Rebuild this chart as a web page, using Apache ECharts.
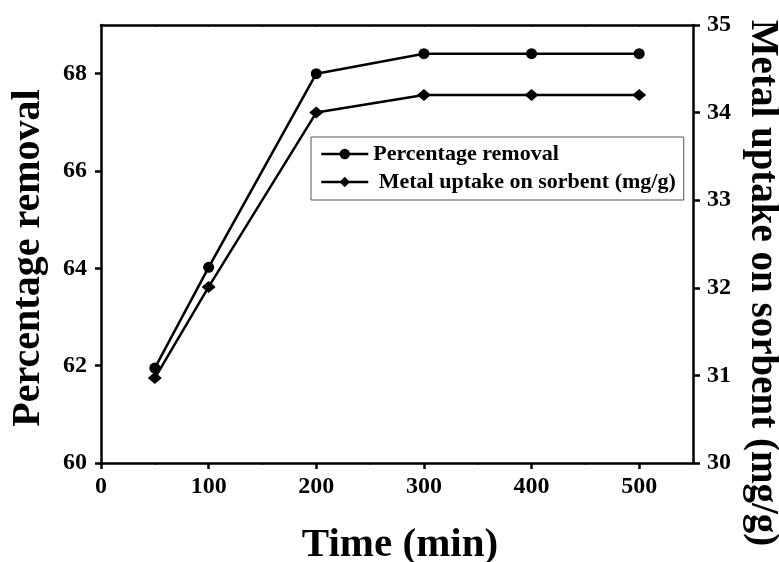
<!DOCTYPE html>
<html>
<head>
<meta charset="utf-8">
<script src="https://cdn.jsdelivr.net/npm/echarts@6/dist/echarts.min.js"></script>
<style>
  html, body { margin: 0; padding: 0; background: #fff; }
  #chart { width: 779px; height: 562px; }
</style>
</head>
<body>
<div id="chart"></div>
<script>
// Contact time (min)
const timeMin = [50, 100, 200, 300, 400, 500];
// Percentage removal (left axis)
const percentRemoval = [61.95, 64.02, 68.0, 68.41, 68.41, 68.41];
// Metal uptake on sorbent, mg/g (right axis)
const metalUptake = [30.97, 32.01, 34.0, 34.2, 34.2, 34.2];
// Tick labels
const leftTicks = [60, 62, 64, 66, 68];
const rightTicks = [30, 31, 32, 33, 34, 35];
const xTicks = [0, 100, 200, 300, 400, 500];

const FONT = '"Liberation Serif", "Times New Roman", serif';
const nameRemoval = 'Percentage removal';
const nameUptake = 'Metal uptake on sorbent (mg/g)';

const chart = echarts.init(document.getElementById('chart'), null, { renderer: 'canvas' });

const tickLabel = { fontFamily: FONT, fontWeight: 'bold', fontSize: 24, color: '#000' };
const axisLine = { show: true, onZero: false, lineStyle: { color: '#000', width: 2.5 } };

chart.setOption({
  animation: false,
  backgroundColor: '#fff',
  grid: { left: 101, top: 25, right: 86, bottom: 99, containLabel: false, outerBoundsMode: 'none' },
  legend: {
    orient: 'vertical',
    left: 311,
    top: 137,
    padding: [6, 8, 7, 9],
    itemWidth: 47,
    itemHeight: 13,
    itemGap: 6,
    borderColor: '#555',
    borderWidth: 1,
    data: [nameRemoval, nameUptake],
    formatter: (n) => (n === nameUptake ? ' ' + n : n),
    lineStyle: { width: 2.5, color: '#000' },
    textStyle: { fontFamily: FONT, fontWeight: 'bold', fontSize: 22, lineHeight: 22, color: '#000' }
  },
  xAxis: [
    {
      type: 'value', position: 'bottom', min: 0, max: 550, interval: 100,
      name: 'Time (min)', nameLocation: 'middle', nameGap: 62,
      nameTextStyle: { fontFamily: FONT, fontWeight: 'bold', fontSize: 41, color: '#000', padding: [0, 0, 0, 6] },
      axisLine: axisLine,
      axisTick: { show: true, inside: false, length: 6, lineStyle: { color: '#000', width: 2.5 }, customValues: xTicks },
      minorTick: { show: true, splitNumber: 2, length: 2, lineStyle: { color: '#000', width: 1 } },
      axisLabel: Object.assign({ margin: 12, customValues: xTicks }, tickLabel),
      splitLine: { show: false }
    },
    {
      type: 'value', position: 'top', min: 0, max: 550, interval: 50,
      axisLine: axisLine,
      axisTick: { show: true, inside: true, length: 2, lineStyle: { color: '#000', width: 1 } },
      axisLabel: { show: false },
      splitLine: { show: false }
    }
  ],
  yAxis: [
    {
      type: 'value', position: 'left', min: 60, max: 69, interval: 2,
      name: nameRemoval, nameLocation: 'middle', nameGap: 52, nameRotate: 90,
      nameTextStyle: { fontFamily: FONT, fontWeight: 'bold', fontSize: 40, color: '#000', padding: [0, 28, 0, 0] },
      axisLine: axisLine,
      axisTick: { show: true, inside: false, length: 6, lineStyle: { color: '#000', width: 2.5 }, customValues: leftTicks },
      axisLabel: Object.assign({ margin: 14, customValues: leftTicks }, tickLabel),
      splitLine: { show: false }
    },
    {
      type: 'value', position: 'right', min: 30, max: 35, interval: 1,
      name: nameUptake, nameLocation: 'middle', nameGap: 50, nameRotate: -90,
      nameTextStyle: { fontFamily: FONT, fontWeight: 'bold', fontSize: 39, color: '#000', padding: [0, 0, 0, 78] },
      axisLine: axisLine,
      axisTick: { show: true, inside: false, length: 7, lineStyle: { color: '#000', width: 2.5 }, customValues: rightTicks },
      axisLabel: Object.assign({ margin: 14, customValues: rightTicks }, tickLabel),
      splitLine: { show: false }
    }
  ],
  series: [
    {
      name: nameRemoval, type: 'line', xAxisIndex: 0, yAxisIndex: 0,
      data: timeMin.map((t, i) => [t, percentRemoval[i]]),
      symbol: 'circle', symbolSize: 11, showAllSymbol: true,
      lineStyle: { color: '#000', width: 2.5 },
      itemStyle: { color: '#000' }
    },
    {
      name: nameUptake, type: 'line', xAxisIndex: 0, yAxisIndex: 1,
      data: timeMin.map((t, i) => [t, metalUptake[i]]),
      symbol: 'diamond', symbolSize: [14, 12], showAllSymbol: true,
      lineStyle: { color: '#000', width: 2.5 },
      itemStyle: { color: '#000' }
    }
  ]
});
</script>
</body>
</html>
